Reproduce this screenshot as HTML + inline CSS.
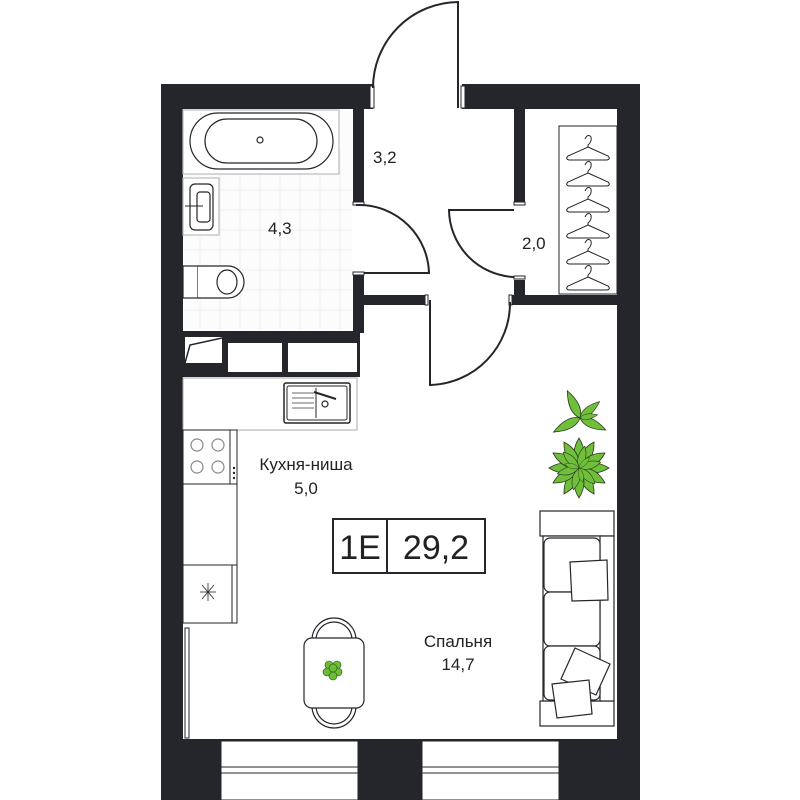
<!DOCTYPE html>
<html><head><meta charset="utf-8"><style>
html,body{margin:0;padding:0;background:#fff;width:800px;height:800px;overflow:hidden}
text{font-family:"Liberation Sans","Noto Sans CJK SC",sans-serif;fill:#222}
</style></head><body>
<svg width="800" height="800" viewBox="0 0 800 800" xmlns="http://www.w3.org/2000/svg">
<defs>
<path id="lf" d="M0 0 Q9 -10 0 -30 Q-9 -10 0 0Z"/>
<path id="lg" d="M0 0 Q10 -14 0 -30 Q-10 -14 0 0Z"/>
<g id="hg" fill="none" stroke="#25262b" stroke-width="1">
<path d="M585 4 Q588 -2 591 2 Q592 7 588 10 V12"/>
<path d="M588 12 L608 21 Q611 24 607 25 H569 Q565 24 568 21 Z"/>
</g>
</defs>
<g fill="#25262b">
<rect x="161" y="84" width="212" height="25"/>
<rect x="462" y="84" width="178" height="25"/>
<rect x="161" y="84" width="22" height="716"/>
<rect x="617" y="84" width="23" height="716"/>
<rect x="161" y="739" width="479" height="61"/>
<rect x="353" y="109" width="11" height="94"/>
<rect x="353" y="275" width="11" height="58"/>
<rect x="364" y="295" width="62" height="10"/>
<rect x="514" y="109" width="11" height="94"/>
<rect x="514" y="280" width="11" height="25"/>
<rect x="510" y="295" width="107" height="10"/>
<rect x="183" y="331" width="177" height="46"/>
</g>
<g fill="#fff" stroke="#25262b" stroke-width="1">
<rect x="370" y="86" width="4" height="22"/><rect x="461" y="86" width="4" height="22"/>
<rect x="353" y="202" width="11" height="3"/><rect x="353" y="272" width="11" height="3"/>
<rect x="514" y="202" width="11" height="3"/><rect x="514" y="276" width="11" height="3"/>
<rect x="425" y="295" width="3" height="10"/><rect x="509" y="295" width="3" height="10"/>
</g>
<g fill="#fff" stroke="#25262b" stroke-width="1">
<rect x="221" y="741" width="137" height="59"/>
<rect x="422" y="741" width="137" height="59"/>
<line x1="221" y1="767" x2="358" y2="767"/><line x1="221" y1="773" x2="358" y2="773"/>
<line x1="422" y1="767" x2="559" y2="767"/><line x1="422" y1="773" x2="559" y2="773"/>
</g>
<g fill="none" stroke="#25262b" stroke-width="2">
<path d="M458 108 V2 A86 86 0 0 0 373 88"/>
<path d="M356 205 H360 A70 70 0 0 1 429 273 H364"/>
<path d="M514 210 H449 A68 68 0 0 0 514 277"/>
<path d="M430 300 V385 A82 82 0 0 0 510 302"/>
</g>
<rect x="184" y="110" width="168" height="220" fill="#fcfcfc"/>
<g stroke="#efefef" stroke-width="1">
<line x1="200" y1="150" x2="200" y2="330"/><line x1="220" y1="150" x2="220" y2="330"/><line x1="240" y1="150" x2="240" y2="330"/><line x1="260" y1="150" x2="260" y2="330"/><line x1="280" y1="150" x2="280" y2="330"/><line x1="300" y1="150" x2="300" y2="330"/><line x1="320" y1="150" x2="320" y2="330"/><line x1="340" y1="150" x2="340" y2="330"/>
<line x1="184" y1="190" x2="352" y2="190"/><line x1="184" y1="210" x2="352" y2="210"/><line x1="184" y1="230" x2="352" y2="230"/><line x1="184" y1="250" x2="352" y2="250"/><line x1="184" y1="270" x2="352" y2="270"/><line x1="184" y1="290" x2="352" y2="290"/><line x1="184" y1="310" x2="352" y2="310"/>
</g>
<g fill="#fff" stroke="#25262b" stroke-width="1.2">
<rect x="183" y="110" width="156" height="64" stroke="#bbb"/>
<rect x="190" y="113" width="143" height="56" rx="28"/>
<rect x="205" y="119" width="112" height="44" rx="22"/>
<circle cx="260" cy="140" r="3"/>
<rect x="183" y="178" width="36" height="57" stroke="#bbb"/>
<rect x="190" y="184" width="23" height="46" rx="5"/>
<rect x="197" y="192" width="13" height="30" rx="3"/>
<rect x="183" y="266" width="15" height="32"/>
<path d="M198 266 H228 A16 16 0 0 1 228 298 H198"/>
<ellipse cx="227" cy="282" rx="10" ry="12"/>
</g>
<line x1="185" y1="206" x2="203" y2="206" stroke="#25262b"/>
<g fill="#fff">
<rect x="185" y="337" width="37" height="26"/>
<rect x="228" y="343" width="54" height="29"/>
<rect x="288" y="343" width="69" height="29"/>
</g>
<path d="M185 363 L190 345 L222 338" fill="none" stroke="#25262b" stroke-width="1.5"/>
<g fill="#fff" stroke="#25262b" stroke-width="1">
<rect x="183" y="378" width="174" height="52" stroke="#aaa"/>
<rect x="284" y="383" width="66" height="40" rx="2" stroke-width="1.5"/>
<rect x="287" y="386" width="60" height="34" rx="2"/>
<line x1="316" y1="388" x2="316" y2="418"/>
<rect x="183" y="430" width="54" height="54"/>
<rect x="183" y="484" width="54" height="81"/>
<rect x="183" y="565" width="54" height="58"/>
<line x1="230" y1="430" x2="230" y2="484"/><line x1="232" y1="565" x2="232" y2="623"/>
<rect x="185" y="628" width="4" height="110"/>
</g>
<g stroke="#888" stroke-width="1.2" fill="none">
<line x1="292" y1="393" x2="314" y2="393"/><line x1="292" y1="398" x2="314" y2="398"/><line x1="292" y1="403" x2="314" y2="403"/><line x1="292" y1="408" x2="314" y2="408"/>
<circle cx="325" cy="404" r="3" stroke="#25262b"/>
<line x1="314" y1="392" x2="336" y2="399" stroke="#25262b" stroke-width="2"/>
<circle cx="197" cy="445" r="6"/><circle cx="218" cy="445" r="6"/><circle cx="197" cy="467" r="6"/><circle cx="218" cy="467" r="6"/>
</g>
<g fill="#25262b"><circle cx="234" cy="468" r="1.2"/><circle cx="234" cy="473" r="1.2"/><circle cx="234" cy="478" r="1.2"/></g>
<g stroke="#25262b" stroke-width="0.8"><line x1="202" y1="585" x2="214" y2="599"/><line x1="214" y1="585" x2="202" y2="599"/><line x1="208" y1="583" x2="208" y2="601"/><line x1="200" y1="592" x2="216" y2="592"/></g>
<g fill="#fff" stroke="#25262b" stroke-width="1.2">
<path d="M312 640 A22 22 0 0 1 356 640"/><path d="M316 640 A18 18 0 0 1 352 640"/>
<path d="M312 706 A22 22 0 0 0 356 706"/><path d="M316 706 A18 18 0 0 0 352 706"/>
<rect x="304" y="638" width="60" height="70" rx="8"/>
</g>
<g fill="#6bbd36" stroke="#2a4a1a" stroke-width="0.6">
<circle cx="329" cy="665" r="4"/><circle cx="337" cy="665" r="4"/><circle cx="327" cy="672" r="4"/><circle cx="338" cy="672" r="4"/><circle cx="333" cy="676" r="4"/><circle cx="333" cy="668" r="4"/>
</g>
<g fill="#fff" stroke="#25262b" stroke-width="1.2">
<rect x="540" y="511" width="74" height="25"/>
<rect x="540" y="701" width="74" height="25"/>
<rect x="543" y="536" width="58" height="165"/>
<rect x="600" y="536" width="14" height="165"/>
<rect x="544" y="538" width="56" height="54" rx="6"/>
<rect x="544" y="592" width="56" height="54" rx="6"/>
<rect x="544" y="646" width="56" height="54" rx="6"/>
<path d="M570 562 L607 560 L608 600 L572 601 Z"/>
<path d="M575 648 L610 664 L596 695 L561 679 Z"/>
<path d="M552 684 L589 680 L592 714 L557 718 Z"/>
</g>
<g fill="#6fbe3c" stroke="#2a3a1a" stroke-width="0.8">
<g transform="translate(580,418)">
<use href="#lf" transform="rotate(-25)"/>
<use href="#lf" transform="rotate(50) scale(0.85)"/>
<use href="#lf" transform="rotate(115) scale(0.95)"/>
<use href="#lf" transform="rotate(-118) scale(1)"/>
<use href="#lf" transform="rotate(80) scale(0.6)"/>
</g>
<g transform="translate(579,468)">
<use href="#lg" transform="rotate(0)"/><use href="#lg" transform="rotate(30)"/><use href="#lg" transform="rotate(60)"/><use href="#lg" transform="rotate(90)"/><use href="#lg" transform="rotate(120)"/><use href="#lg" transform="rotate(150)"/><use href="#lg" transform="rotate(180)"/><use href="#lg" transform="rotate(210)"/><use href="#lg" transform="rotate(240)"/><use href="#lg" transform="rotate(270)"/><use href="#lg" transform="rotate(300)"/><use href="#lg" transform="rotate(330)"/>
<use href="#lg" transform="rotate(15) scale(0.75)"/><use href="#lg" transform="rotate(75) scale(0.75)"/><use href="#lg" transform="rotate(135) scale(0.75)"/><use href="#lg" transform="rotate(195) scale(0.75)"/><use href="#lg" transform="rotate(255) scale(0.75)"/><use href="#lg" transform="rotate(315) scale(0.75)"/>
<use href="#lg" transform="rotate(45) scale(0.5)"/><use href="#lg" transform="rotate(165) scale(0.5)"/><use href="#lg" transform="rotate(285) scale(0.5)"/>
</g>
</g>
<g fill="#fff" stroke="#25262b" stroke-width="2">
<rect x="333" y="519" width="152" height="54"/>
<line x1="387" y1="519" x2="387" y2="573"/>
</g>
<text x="360" y="559" font-size="34" text-anchor="middle">1E</text>
<text x="436" y="559" font-size="34" text-anchor="middle">29,2</text>
<rect x="559" y="126" width="58" height="168" fill="none" stroke="#25262b" stroke-width="1"/>
<use href="#hg" transform="translate(0,135)"/>
<use href="#hg" transform="translate(0,161)"/>
<use href="#hg" transform="translate(0,187)"/>
<use href="#hg" transform="translate(0,213)"/>
<use href="#hg" transform="translate(0,239)"/>
<use href="#hg" transform="translate(0,265)"/>
<g font-size="17">
<text x="373" y="163">3,2</text>
<text x="268" y="234">4,3</text>
<text x="522" y="249">2,0</text>
<text x="306" y="470" text-anchor="middle">Кухня-ниша</text>
<text x="306" y="494" text-anchor="middle">5,0</text>
<text x="458" y="647" text-anchor="middle">Спальня</text>
<text x="458" y="670" text-anchor="middle">14,7</text>
</g>
</svg>
</body></html>
